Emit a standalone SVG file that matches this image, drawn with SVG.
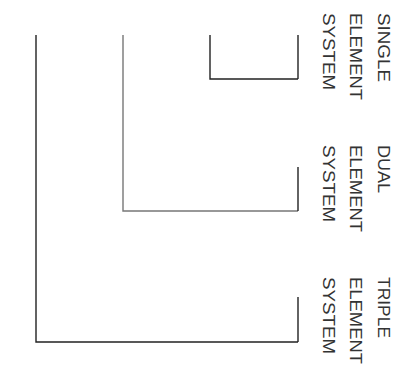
<svg xmlns="http://www.w3.org/2000/svg" width="403" height="376" viewBox="0 0 403 376">
<style>
.ln{fill:none;stroke:#222;stroke-width:1.4}
.lg{fill:none;stroke:#777;stroke-width:1.4}
.t{font-family:"Liberation Sans",Arial,sans-serif;font-size:16px;fill:#333}
</style>
<rect width="403" height="376" fill="#fff"/>
<g id="connectors">
<polyline class="ln" points="210,35 210,79 298,79"/>
<polyline class="ln" points="298,35 298,79"/>
<polyline class="lg" points="123,35 123,211 298,211"/>
<polyline class="ln" points="298,167 298,211"/>
<polyline class="ln" points="36,35 36,342 298,342"/>
<polyline class="ln" points="298,297 298,342"/>
</g>
<g id="single">
<text class="t" transform="translate(378,13) rotate(90)" textLength="69" lengthAdjust="spacingAndGlyphs">SINGLE</text>
<text class="t" transform="translate(350,13) rotate(90)" textLength="87" lengthAdjust="spacingAndGlyphs">ELEMENT</text>
<text class="t" transform="translate(323,13) rotate(90)" textLength="77" lengthAdjust="spacingAndGlyphs">SYSTEM</text>
</g>
<g id="dual">
<text class="t" transform="translate(378,145) rotate(90)" textLength="48" lengthAdjust="spacingAndGlyphs">DUAL</text>
<text class="t" transform="translate(350,145) rotate(90)" textLength="87" lengthAdjust="spacingAndGlyphs">ELEMENT</text>
<text class="t" transform="translate(323,145) rotate(90)" textLength="77" lengthAdjust="spacingAndGlyphs">SYSTEM</text>
</g>
<g id="triple">
<text class="t" transform="translate(378,277) rotate(90)" textLength="61" lengthAdjust="spacingAndGlyphs">TRIPLE</text>
<text class="t" transform="translate(350,277) rotate(90)" textLength="87" lengthAdjust="spacingAndGlyphs">ELEMENT</text>
<text class="t" transform="translate(323,277) rotate(90)" textLength="77" lengthAdjust="spacingAndGlyphs">SYSTEM</text>
</g>
</svg>
